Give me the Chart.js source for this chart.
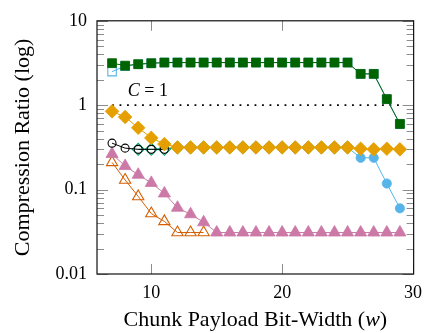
<!DOCTYPE html>
<html>
<head>
<meta charset="utf-8">
<script src="https://cdn.jsdelivr.net/npm/chart.js@4/dist/chart.umd.min.js"></script>
<style>
  html, body { margin: 0; background: #fff; }
</style>
</head>
<body>
<canvas id="chart" width="430" height="333"></canvas>
<script>
// values (log scale)

const widthsAll = [7, 8, 9, 10, 11, 12, 13, 14, 15, 16, 17, 18, 19, 20, 21, 22, 23, 24, 25, 26, 27, 28, 29];
const greenSquares = [3.15, 2.94, 3.06, 3.14, 3.2, 3.2, 3.2, 3.2, 3.2, 3.2, 3.2, 3.2, 3.2, 3.2, 3.2, 3.2, 3.2, 3.2, 3.2, 2.35, 2.35, 1.18, 0.6];
const blueSquares = [2.5, 2.9, 3.06, 3.14, 3.2, 3.2, 3.2, 3.2, 3.2, 3.2, 3.2, 3.2, 3.2, 3.2, 3.2, 3.2, 3.2, 3.2, 3.2, 2.35, 2.35, 1.18, 0.6];
const goldDiamonds = [0.845, 0.725, 0.54, 0.41, 0.346, 0.316, 0.316, 0.316, 0.316, 0.316, 0.316, 0.316, 0.316, 0.316, 0.316, 0.316, 0.316, 0.316, 0.316, 0.305, 0.3, 0.305, 0.3];
const pinkTriangles = [0.264, 0.19, 0.15, 0.12, 0.09, 0.061, 0.051, 0.041, 0.031, 0.031, 0.031, 0.031, 0.031, 0.031, 0.031, 0.031, 0.031, 0.031, 0.031, 0.031, 0.031, 0.031, 0.031];

const widthsBlack = [7, 8, 9, 10, 11];
const blackCircles = [0.355, 0.31, 0.3, 0.3, 0.3];

const widthsTeal = [9, 10, 11, 12, 13, 14, 15, 16, 17, 18, 19, 20, 21, 22, 23, 24, 25];
const tealDiamonds = [0.3, 0.3, 0.3, 0.316, 0.316, 0.316, 0.316, 0.316, 0.316, 0.316, 0.316, 0.316, 0.316, 0.316, 0.316, 0.316, 0.316];

const widthsBlueCirc = [12, 13, 14, 15, 16, 17, 18, 19, 20, 21, 22, 23, 24, 25, 26, 27, 28, 29];
const blueCircles = [0.316, 0.316, 0.316, 0.316, 0.316, 0.316, 0.316, 0.316, 0.316, 0.316, 0.316, 0.316, 0.316, 0.316, 0.238, 0.238, 0.118, 0.06];

const widthsOrange = [7, 8, 9, 10, 11, 12, 13, 14];
const orangeTriangles = [0.21, 0.13, 0.083, 0.052, 0.042, 0.031, 0.031, 0.031];

const widthsRef = [7, 29];
const refLine = [1, 1];

const xTicks = [10, 20, 30];
const yTicks = [0.01, 0.1, 1, 10];
const yTickLabels = ["0.01", "0.1", "1", "10"];

const serif = "'Liberation Serif', 'Times New Roman', serif";

function pts(xs, ys) {
    return xs.map((x, i) => ({ x: x, y: ys[i] }));
}

function series(xs, ys, color, style, radius, filled) {
    return {
        data: pts(xs, ys),
        borderColor: color,
        borderWidth: 1,
        pointStyle: style,
        pointRadius: radius,
        pointBorderWidth: filled ? 0.8 : 1.1,
        pointBorderColor: color,
        pointBackgroundColor: filled ? color : "rgba(0,0,0,0)",
        tension: 0
    };
}

// datasets listed top-most first (Chart.js draws index 0 last)
const datasets = [
    series(widthsAll, greenSquares, "#006400", "rect", 6.3, true),
    series(widthsAll, blueSquares, "#56B4E9", "rect", 6, false),
    series(widthsAll, goldDiamonds, "#E69F00", "rectRot", 6.8, true),
    series(widthsBlack, blackCircles, "#000000", "circle", 4, false),
    series(widthsTeal, tealDiamonds, "#009E73", "rectRot", 6, false),
    series(widthsBlueCirc, blueCircles, "#56B4E9", "circle", 4.6, true),
    series(widthsAll, pinkTriangles, "#CC79A7", "triangle", 7, true),
    series(widthsOrange, orangeTriangles, "#D55E00", "triangle", 6.5, false),
    {
        data: pts(widthsRef, refLine),
        borderColor: "#000",
        borderWidth: 1.8,
        borderDash: [1.8, 5.7],
        pointRadius: 0
    }
];

// frame, inward tick marks, x title with italic w, "C = 1" note
const frameTicks = {
    id: "frameTicks",
    afterDraw(chart) {
        const { ctx, chartArea: a, scales: { x, y } } = chart;
        ctx.save();

        ctx.strokeStyle = "#8c8c8c";
        ctx.lineWidth = 1;
        ctx.beginPath();
        for (let d = 0; d < yTicks.length; d++) {
            const py = Math.round(y.getPixelForValue(yTicks[d])) + 0.5;
            ctx.moveTo(a.left, py); ctx.lineTo(a.left + 11, py);
            ctx.moveTo(a.right, py); ctx.lineTo(a.right - 11, py);
            if (d < yTicks.length - 1) {
                for (let k = 2; k <= 9; k++) {
                    const my = Math.round(y.getPixelForValue(yTicks[d] * k)) + 0.5;
                    ctx.moveTo(a.left, my); ctx.lineTo(a.left + 7, my);
                    ctx.moveTo(a.right, my); ctx.lineTo(a.right - 7, my);
                }
            }
        }
        xTicks.forEach(v => {
            const px = Math.round(x.getPixelForValue(v)) + 0.5;
            ctx.moveTo(px, a.bottom); ctx.lineTo(px, a.bottom - 10);
            ctx.moveTo(px, a.top); ctx.lineTo(px, a.top + 10);
        });
        ctx.stroke();

        ctx.strokeStyle = "#111";
        ctx.lineWidth = 1.2;
        ctx.strokeRect(a.left, a.top, a.right - a.left, a.bottom - a.top);

        // x axis title
        ctx.fillStyle = "#000";
        ctx.textBaseline = "middle";
        const t1 = "Chunk Payload Bit-Width (", t2 = "w", t3 = ")";
        const up = "22px " + serif, it = "italic 22px " + serif;
        ctx.font = up;
        const w1 = ctx.measureText(t1).width, w3 = ctx.measureText(t3).width;
        ctx.font = it;
        const w2 = ctx.measureText(t2).width;
        let tx = (a.left + a.right) / 2 - (w1 + w2 + w3) / 2;
        const ty = 320;
        ctx.font = up; ctx.fillText(t1, tx, ty); tx += w1;
        ctx.font = it; ctx.fillText(t2, tx, ty); tx += w2;
        ctx.font = up; ctx.fillText(t3, tx, ty);

        // C = 1 note
        let nx = x.getPixelForValue(8.2);
        const ny = y.getPixelForValue(1.45);
        ctx.font = "italic 18px " + serif;
        ctx.fillText("C", nx, ny);
        nx += ctx.measureText("C").width;
        ctx.font = "18px " + serif;
        ctx.fillText(" = 1", nx, ny);

        ctx.restore();
    }
};

new Chart(document.getElementById("chart"), {
    type: "line",
    data: { datasets: datasets },
    options: {
        responsive: false,
        animation: false,
        layout: { padding: { top: 16, right: 10, left: 0, bottom: 0 } },
        plugins: { legend: { display: false }, tooltip: { enabled: false } },
        scales: {
            x: {
                type: "linear",
                min: 5.85,
                max: 30.05,
                afterBuildTicks: s => { s.ticks = xTicks.map(v => ({ value: v })); },
                afterFit: s => { s.height = 59; },
                grid: { display: false, drawTicks: false },
                border: { display: false },
                ticks: { color: "#000", font: { family: serif, size: 18 }, padding: 8, maxRotation: 0 }
            },
            y: {
                type: "logarithmic",
                min: 0.01,
                max: 10,
                afterBuildTicks: s => { s.ticks = yTicks.map(v => ({ value: v })); },
                afterFit: s => { s.width = 97; },
                grid: { display: false, drawTicks: false },
                border: { display: false },
                ticks: {
                    color: "#000",
                    font: { family: serif, size: 18 },
                    padding: 10,
                    callback: v => {
                        const i = yTicks.indexOf(v);
                        return i >= 0 ? yTickLabels[i] : "";
                    }
                },
                title: {
                    display: true,
                    text: "Compression Ratio (log)",
                    color: "#000",
                    font: { family: serif, size: 22 },
                    padding: { top: 10, bottom: 0 }
                }
            }
        }
    },
    plugins: [frameTicks]
});
</script>
</body>
</html>
